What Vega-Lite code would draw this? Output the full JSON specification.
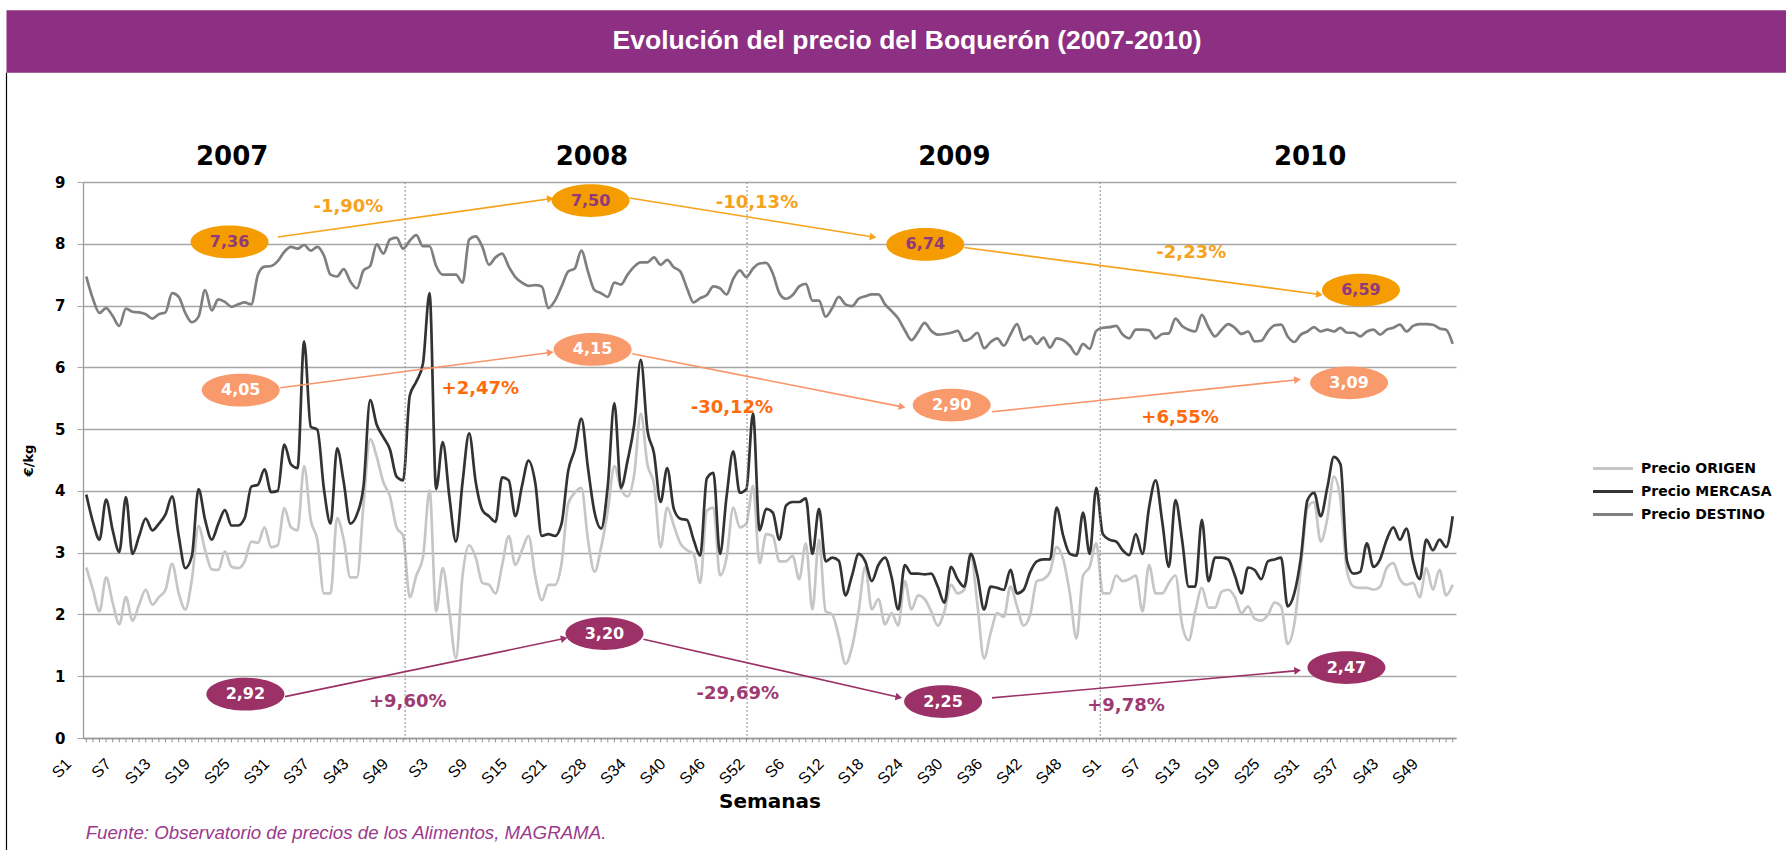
{
  "$schema": "https://vega.github.io/schema/vega-lite/v6.json",
  "width": 1373,
  "height": 556,
  "autosize": {"type": "none"},
  "padding": {"left": 83, "top": 182, "right": 330, "bottom": 112},
  "background": "#ffffff",
  "config": {"view": {"stroke": null}},
  "datasets": {
    "precios": [
      {"i":0,"ORIGEN":2.76,"MERCASA":3.94,"DESTINO":7.47},
      {"i":1,"ORIGEN":2.40,"MERCASA":3.50,"DESTINO":7.11},
      {"i":2,"ORIGEN":2.05,"MERCASA":3.21,"DESTINO":6.88},
      {"i":3,"ORIGEN":2.60,"MERCASA":3.86,"DESTINO":6.96},
      {"i":4,"ORIGEN":2.19,"MERCASA":3.36,"DESTINO":6.83},
      {"i":5,"ORIGEN":1.84,"MERCASA":3.01,"DESTINO":6.67},
      {"i":6,"ORIGEN":2.28,"MERCASA":3.90,"DESTINO":6.95},
      {"i":7,"ORIGEN":1.90,"MERCASA":2.98,"DESTINO":6.90},
      {"i":8,"ORIGEN":2.16,"MERCASA":3.27,"DESTINO":6.89},
      {"i":9,"ORIGEN":2.40,"MERCASA":3.55,"DESTINO":6.86},
      {"i":10,"ORIGEN":2.16,"MERCASA":3.36,"DESTINO":6.79},
      {"i":11,"ORIGEN":2.28,"MERCASA":3.47,"DESTINO":6.86},
      {"i":12,"ORIGEN":2.40,"MERCASA":3.62,"DESTINO":6.89},
      {"i":13,"ORIGEN":2.82,"MERCASA":3.91,"DESTINO":7.20},
      {"i":14,"ORIGEN":2.34,"MERCASA":3.27,"DESTINO":7.14},
      {"i":15,"ORIGEN":2.08,"MERCASA":2.75,"DESTINO":6.88},
      {"i":16,"ORIGEN":2.57,"MERCASA":2.95,"DESTINO":6.73},
      {"i":17,"ORIGEN":3.43,"MERCASA":4.03,"DESTINO":6.82},
      {"i":18,"ORIGEN":3.04,"MERCASA":3.53,"DESTINO":7.25},
      {"i":19,"ORIGEN":2.73,"MERCASA":3.21,"DESTINO":6.92},
      {"i":20,"ORIGEN":2.72,"MERCASA":3.47,"DESTINO":7.10},
      {"i":21,"ORIGEN":3.02,"MERCASA":3.69,"DESTINO":7.06},
      {"i":22,"ORIGEN":2.77,"MERCASA":3.44,"DESTINO":6.98},
      {"i":23,"ORIGEN":2.75,"MERCASA":3.44,"DESTINO":7.02},
      {"i":24,"ORIGEN":2.86,"MERCASA":3.56,"DESTINO":7.05},
      {"i":25,"ORIGEN":3.18,"MERCASA":4.07,"DESTINO":7.02},
      {"i":26,"ORIGEN":3.16,"MERCASA":4.10,"DESTINO":7.50},
      {"i":27,"ORIGEN":3.41,"MERCASA":4.35,"DESTINO":7.63},
      {"i":28,"ORIGEN":3.09,"MERCASA":3.98,"DESTINO":7.64},
      {"i":29,"ORIGEN":3.12,"MERCASA":4.00,"DESTINO":7.72},
      {"i":30,"ORIGEN":3.72,"MERCASA":4.75,"DESTINO":7.87},
      {"i":31,"ORIGEN":3.41,"MERCASA":4.43,"DESTINO":7.95},
      {"i":32,"ORIGEN":3.36,"MERCASA":4.37,"DESTINO":7.92},
      {"i":33,"ORIGEN":4.40,"MERCASA":6.42,"DESTINO":7.98},
      {"i":34,"ORIGEN":3.53,"MERCASA":5.04,"DESTINO":7.89},
      {"i":35,"ORIGEN":3.21,"MERCASA":4.99,"DESTINO":7.95},
      {"i":36,"ORIGEN":2.34,"MERCASA":4.03,"DESTINO":7.81},
      {"i":37,"ORIGEN":2.34,"MERCASA":3.47,"DESTINO":7.50},
      {"i":38,"ORIGEN":3.56,"MERCASA":4.69,"DESTINO":7.47},
      {"i":39,"ORIGEN":3.21,"MERCASA":4.14,"DESTINO":7.59},
      {"i":40,"ORIGEN":2.60,"MERCASA":3.47,"DESTINO":7.39},
      {"i":41,"ORIGEN":2.60,"MERCASA":3.62,"DESTINO":7.28},
      {"i":42,"ORIGEN":3.79,"MERCASA":4.08,"DESTINO":7.57},
      {"i":43,"ORIGEN":4.84,"MERCASA":5.47,"DESTINO":7.64},
      {"i":44,"ORIGEN":4.55,"MERCASA":5.07,"DESTINO":7.99},
      {"i":45,"ORIGEN":4.14,"MERCASA":4.87,"DESTINO":7.84},
      {"i":46,"ORIGEN":3.91,"MERCASA":4.67,"DESTINO":8.07},
      {"i":47,"ORIGEN":3.41,"MERCASA":4.23,"DESTINO":8.10},
      {"i":48,"ORIGEN":3.27,"MERCASA":4.17,"DESTINO":7.92},
      {"i":49,"ORIGEN":2.28,"MERCASA":5.54,"DESTINO":8.05},
      {"i":50,"ORIGEN":2.63,"MERCASA":5.77,"DESTINO":8.14},
      {"i":51,"ORIGEN":2.92,"MERCASA":6.06,"DESTINO":7.96},
      {"i":52,"ORIGEN":4.01,"MERCASA":7.20,"DESTINO":7.96},
      {"i":53,"ORIGEN":2.05,"MERCASA":4.03,"DESTINO":7.64},
      {"i":54,"ORIGEN":2.75,"MERCASA":4.79,"DESTINO":7.50},
      {"i":55,"ORIGEN":2.05,"MERCASA":3.91,"DESTINO":7.50},
      {"i":56,"ORIGEN":1.29,"MERCASA":3.18,"DESTINO":7.50},
      {"i":57,"ORIGEN":2.63,"MERCASA":4.14,"DESTINO":7.37},
      {"i":58,"ORIGEN":3.12,"MERCASA":4.93,"DESTINO":8.07},
      {"i":59,"ORIGEN":2.92,"MERCASA":4.14,"DESTINO":8.12},
      {"i":60,"ORIGEN":2.51,"MERCASA":3.69,"DESTINO":7.95},
      {"i":61,"ORIGEN":2.48,"MERCASA":3.59,"DESTINO":7.66},
      {"i":62,"ORIGEN":2.34,"MERCASA":3.50,"DESTINO":7.78},
      {"i":63,"ORIGEN":2.80,"MERCASA":4.22,"DESTINO":7.84},
      {"i":64,"ORIGEN":3.27,"MERCASA":4.17,"DESTINO":7.63},
      {"i":65,"ORIGEN":2.80,"MERCASA":3.59,"DESTINO":7.46},
      {"i":66,"ORIGEN":3.04,"MERCASA":4.08,"DESTINO":7.37},
      {"i":67,"ORIGEN":3.27,"MERCASA":4.49,"DESTINO":7.32},
      {"i":68,"ORIGEN":2.63,"MERCASA":4.14,"DESTINO":7.33},
      {"i":69,"ORIGEN":2.23,"MERCASA":3.27,"DESTINO":7.31},
      {"i":70,"ORIGEN":2.48,"MERCASA":3.30,"DESTINO":6.96},
      {"i":71,"ORIGEN":2.48,"MERCASA":3.27,"DESTINO":7.08},
      {"i":72,"ORIGEN":2.83,"MERCASA":3.47,"DESTINO":7.31},
      {"i":73,"ORIGEN":3.79,"MERCASA":4.32,"DESTINO":7.55},
      {"i":74,"ORIGEN":3.97,"MERCASA":4.67,"DESTINO":7.60},
      {"i":75,"ORIGEN":4.05,"MERCASA":5.17,"DESTINO":7.89},
      {"i":76,"ORIGEN":3.21,"MERCASA":4.37,"DESTINO":7.55},
      {"i":77,"ORIGEN":2.69,"MERCASA":3.65,"DESTINO":7.25},
      {"i":78,"ORIGEN":3.09,"MERCASA":3.39,"DESTINO":7.20},
      {"i":79,"ORIGEN":3.68,"MERCASA":4.08,"DESTINO":7.14},
      {"i":80,"ORIGEN":4.40,"MERCASA":5.42,"DESTINO":7.37},
      {"i":81,"ORIGEN":4.03,"MERCASA":4.05,"DESTINO":7.34},
      {"i":82,"ORIGEN":3.91,"MERCASA":4.49,"DESTINO":7.50},
      {"i":83,"ORIGEN":4.26,"MERCASA":5.07,"DESTINO":7.63},
      {"i":84,"ORIGEN":5.25,"MERCASA":6.12,"DESTINO":7.70},
      {"i":85,"ORIGEN":4.43,"MERCASA":4.99,"DESTINO":7.70},
      {"i":86,"ORIGEN":4.11,"MERCASA":4.61,"DESTINO":7.78},
      {"i":87,"ORIGEN":3.09,"MERCASA":3.82,"DESTINO":7.66},
      {"i":88,"ORIGEN":3.73,"MERCASA":4.37,"DESTINO":7.74},
      {"i":89,"ORIGEN":3.44,"MERCASA":3.71,"DESTINO":7.62},
      {"i":90,"ORIGEN":3.15,"MERCASA":3.55,"DESTINO":7.55},
      {"i":91,"ORIGEN":3.04,"MERCASA":3.53,"DESTINO":7.28},
      {"i":92,"ORIGEN":2.98,"MERCASA":3.21,"DESTINO":7.05},
      {"i":93,"ORIGEN":2.51,"MERCASA":2.95,"DESTINO":7.12},
      {"i":94,"ORIGEN":3.68,"MERCASA":4.20,"DESTINO":7.17},
      {"i":95,"ORIGEN":3.73,"MERCASA":4.29,"DESTINO":7.31},
      {"i":96,"ORIGEN":2.63,"MERCASA":2.98,"DESTINO":7.28},
      {"i":97,"ORIGEN":2.92,"MERCASA":3.91,"DESTINO":7.18},
      {"i":98,"ORIGEN":3.73,"MERCASA":4.64,"DESTINO":7.43},
      {"i":99,"ORIGEN":3.41,"MERCASA":3.97,"DESTINO":7.57},
      {"i":100,"ORIGEN":3.47,"MERCASA":4.03,"DESTINO":7.46},
      {"i":101,"ORIGEN":4.08,"MERCASA":5.25,"DESTINO":7.60},
      {"i":102,"ORIGEN":2.83,"MERCASA":3.36,"DESTINO":7.68},
      {"i":103,"ORIGEN":3.30,"MERCASA":3.71,"DESTINO":7.69},
      {"i":104,"ORIGEN":3.27,"MERCASA":3.65,"DESTINO":7.52},
      {"i":105,"ORIGEN":2.86,"MERCASA":3.21,"DESTINO":7.20},
      {"i":106,"ORIGEN":2.86,"MERCASA":3.76,"DESTINO":7.11},
      {"i":107,"ORIGEN":2.95,"MERCASA":3.82,"DESTINO":7.17},
      {"i":108,"ORIGEN":2.57,"MERCASA":3.82,"DESTINO":7.31},
      {"i":109,"ORIGEN":3.15,"MERCASA":3.88,"DESTINO":7.35},
      {"i":110,"ORIGEN":2.08,"MERCASA":2.98,"DESTINO":7.08},
      {"i":111,"ORIGEN":3.21,"MERCASA":3.71,"DESTINO":7.08},
      {"i":112,"ORIGEN":2.05,"MERCASA":2.86,"DESTINO":6.82},
      {"i":113,"ORIGEN":2.00,"MERCASA":2.92,"DESTINO":6.96},
      {"i":114,"ORIGEN":1.64,"MERCASA":2.87,"DESTINO":7.14},
      {"i":115,"ORIGEN":1.20,"MERCASA":2.31,"DESTINO":7.02},
      {"i":116,"ORIGEN":1.47,"MERCASA":2.63,"DESTINO":6.99},
      {"i":117,"ORIGEN":2.05,"MERCASA":2.98,"DESTINO":7.11},
      {"i":118,"ORIGEN":2.77,"MERCASA":2.86,"DESTINO":7.15},
      {"i":119,"ORIGEN":2.08,"MERCASA":2.54,"DESTINO":7.18},
      {"i":120,"ORIGEN":2.25,"MERCASA":2.80,"DESTINO":7.18},
      {"i":121,"ORIGEN":1.84,"MERCASA":2.92,"DESTINO":7.02},
      {"i":122,"ORIGEN":2.02,"MERCASA":2.60,"DESTINO":6.91},
      {"i":123,"ORIGEN":1.82,"MERCASA":2.08,"DESTINO":6.79},
      {"i":124,"ORIGEN":2.54,"MERCASA":2.80,"DESTINO":6.60},
      {"i":125,"ORIGEN":2.08,"MERCASA":2.66,"DESTINO":6.44},
      {"i":126,"ORIGEN":2.31,"MERCASA":2.66,"DESTINO":6.57},
      {"i":127,"ORIGEN":2.25,"MERCASA":2.65,"DESTINO":6.72},
      {"i":128,"ORIGEN":2.05,"MERCASA":2.66,"DESTINO":6.59},
      {"i":129,"ORIGEN":1.82,"MERCASA":2.45,"DESTINO":6.53},
      {"i":130,"ORIGEN":2.05,"MERCASA":2.19,"DESTINO":6.54},
      {"i":131,"ORIGEN":2.48,"MERCASA":2.77,"DESTINO":6.56},
      {"i":132,"ORIGEN":2.34,"MERCASA":2.57,"DESTINO":6.59},
      {"i":133,"ORIGEN":2.40,"MERCASA":2.45,"DESTINO":6.43},
      {"i":134,"ORIGEN":2.95,"MERCASA":2.98,"DESTINO":6.47},
      {"i":135,"ORIGEN":2.16,"MERCASA":2.63,"DESTINO":6.56},
      {"i":136,"ORIGEN":1.29,"MERCASA":2.08,"DESTINO":6.31},
      {"i":137,"ORIGEN":1.70,"MERCASA":2.45,"DESTINO":6.41},
      {"i":138,"ORIGEN":2.02,"MERCASA":2.43,"DESTINO":6.47},
      {"i":139,"ORIGEN":1.96,"MERCASA":2.40,"DESTINO":6.35},
      {"i":140,"ORIGEN":2.45,"MERCASA":2.72,"DESTINO":6.53},
      {"i":141,"ORIGEN":2.13,"MERCASA":2.34,"DESTINO":6.70},
      {"i":142,"ORIGEN":1.82,"MERCASA":2.40,"DESTINO":6.44},
      {"i":143,"ORIGEN":2.00,"MERCASA":2.69,"DESTINO":6.50},
      {"i":144,"ORIGEN":2.54,"MERCASA":2.86,"DESTINO":6.38},
      {"i":145,"ORIGEN":2.57,"MERCASA":2.89,"DESTINO":6.48},
      {"i":146,"ORIGEN":2.69,"MERCASA":2.89,"DESTINO":6.32},
      {"i":147,"ORIGEN":3.09,"MERCASA":3.73,"DESTINO":6.47},
      {"i":148,"ORIGEN":2.89,"MERCASA":3.27,"DESTINO":6.44},
      {"i":149,"ORIGEN":2.34,"MERCASA":2.98,"DESTINO":6.35},
      {"i":150,"ORIGEN":1.61,"MERCASA":2.95,"DESTINO":6.21},
      {"i":151,"ORIGEN":2.63,"MERCASA":3.65,"DESTINO":6.38},
      {"i":152,"ORIGEN":2.77,"MERCASA":2.98,"DESTINO":6.30},
      {"i":153,"ORIGEN":3.15,"MERCASA":4.05,"DESTINO":6.59},
      {"i":154,"ORIGEN":2.34,"MERCASA":3.30,"DESTINO":6.64},
      {"i":155,"ORIGEN":2.34,"MERCASA":3.21,"DESTINO":6.65},
      {"i":156,"ORIGEN":2.63,"MERCASA":3.18,"DESTINO":6.67},
      {"i":157,"ORIGEN":2.54,"MERCASA":3.04,"DESTINO":6.53},
      {"i":158,"ORIGEN":2.57,"MERCASA":2.96,"DESTINO":6.47},
      {"i":159,"ORIGEN":2.63,"MERCASA":3.30,"DESTINO":6.61},
      {"i":160,"ORIGEN":2.05,"MERCASA":2.98,"DESTINO":6.61},
      {"i":161,"ORIGEN":2.80,"MERCASA":3.73,"DESTINO":6.60},
      {"i":162,"ORIGEN":2.34,"MERCASA":4.17,"DESTINO":6.47},
      {"i":163,"ORIGEN":2.34,"MERCASA":3.50,"DESTINO":6.54},
      {"i":164,"ORIGEN":2.51,"MERCASA":2.77,"DESTINO":6.55},
      {"i":165,"ORIGEN":2.63,"MERCASA":3.85,"DESTINO":6.79},
      {"i":166,"ORIGEN":1.84,"MERCASA":3.21,"DESTINO":6.67},
      {"i":167,"ORIGEN":1.58,"MERCASA":2.45,"DESTINO":6.61},
      {"i":168,"ORIGEN":2.05,"MERCASA":2.45,"DESTINO":6.58},
      {"i":169,"ORIGEN":2.43,"MERCASA":3.53,"DESTINO":6.85},
      {"i":170,"ORIGEN":2.11,"MERCASA":2.54,"DESTINO":6.65},
      {"i":171,"ORIGEN":2.11,"MERCASA":2.92,"DESTINO":6.50},
      {"i":172,"ORIGEN":2.37,"MERCASA":2.92,"DESTINO":6.61},
      {"i":173,"ORIGEN":2.40,"MERCASA":2.89,"DESTINO":6.70},
      {"i":174,"ORIGEN":2.28,"MERCASA":2.63,"DESTINO":6.64},
      {"i":175,"ORIGEN":2.02,"MERCASA":2.34,"DESTINO":6.54},
      {"i":176,"ORIGEN":2.13,"MERCASA":2.76,"DESTINO":6.58},
      {"i":177,"ORIGEN":1.93,"MERCASA":2.72,"DESTINO":6.42},
      {"i":178,"ORIGEN":1.90,"MERCASA":2.57,"DESTINO":6.43},
      {"i":179,"ORIGEN":1.99,"MERCASA":2.86,"DESTINO":6.58},
      {"i":180,"ORIGEN":2.19,"MERCASA":2.89,"DESTINO":6.68},
      {"i":181,"ORIGEN":2.13,"MERCASA":2.92,"DESTINO":6.69},
      {"i":182,"ORIGEN":1.52,"MERCASA":2.13,"DESTINO":6.50},
      {"i":183,"ORIGEN":1.84,"MERCASA":2.34,"DESTINO":6.41},
      {"i":184,"ORIGEN":2.75,"MERCASA":2.92,"DESTINO":6.53},
      {"i":185,"ORIGEN":3.73,"MERCASA":3.85,"DESTINO":6.58},
      {"i":186,"ORIGEN":3.82,"MERCASA":3.97,"DESTINO":6.65},
      {"i":187,"ORIGEN":3.18,"MERCASA":3.59,"DESTINO":6.58},
      {"i":188,"ORIGEN":3.55,"MERCASA":4.05,"DESTINO":6.61},
      {"i":189,"ORIGEN":4.23,"MERCASA":4.55,"DESTINO":6.58},
      {"i":190,"ORIGEN":3.85,"MERCASA":4.43,"DESTINO":6.64},
      {"i":191,"ORIGEN":2.69,"MERCASA":2.86,"DESTINO":6.56},
      {"i":192,"ORIGEN":2.45,"MERCASA":2.66,"DESTINO":6.56},
      {"i":193,"ORIGEN":2.43,"MERCASA":2.69,"DESTINO":6.50},
      {"i":194,"ORIGEN":2.43,"MERCASA":3.15,"DESTINO":6.58},
      {"i":195,"ORIGEN":2.40,"MERCASA":2.77,"DESTINO":6.61},
      {"i":196,"ORIGEN":2.45,"MERCASA":2.89,"DESTINO":6.53},
      {"i":197,"ORIGEN":2.75,"MERCASA":3.21,"DESTINO":6.61},
      {"i":198,"ORIGEN":2.83,"MERCASA":3.41,"DESTINO":6.64},
      {"i":199,"ORIGEN":2.57,"MERCASA":3.21,"DESTINO":6.69},
      {"i":200,"ORIGEN":2.48,"MERCASA":3.39,"DESTINO":6.58},
      {"i":201,"ORIGEN":2.51,"MERCASA":2.86,"DESTINO":6.67},
      {"i":202,"ORIGEN":2.28,"MERCASA":2.57,"DESTINO":6.70},
      {"i":203,"ORIGEN":2.75,"MERCASA":3.21,"DESTINO":6.70},
      {"i":204,"ORIGEN":2.40,"MERCASA":3.04,"DESTINO":6.69},
      {"i":205,"ORIGEN":2.72,"MERCASA":3.21,"DESTINO":6.63},
      {"i":206,"ORIGEN":2.31,"MERCASA":3.09,"DESTINO":6.61},
      {"i":207,"ORIGEN":2.48,"MERCASA":3.59,"DESTINO":6.38}
    ],
    "elipses": [
      {"i":21.7,"v":8.03,"t":"7,36","g":"a"},
      {"i":76.4,"v":8.70,"t":"7,50","g":"a"},
      {"i":127.1,"v":7.99,"t":"6,74","g":"a"},
      {"i":193.1,"v":7.25,"t":"6,59","g":"a"},
      {"i":23.4,"v":5.63,"t":"4,05","g":"b"},
      {"i":76.7,"v":6.29,"t":"4,15","g":"b"},
      {"i":131.1,"v":5.39,"t":"2,90","g":"b"},
      {"i":191.3,"v":5.75,"t":"3,09","g":"b"},
      {"i":24.1,"v":0.71,"t":"2,92","g":"c"},
      {"i":78.5,"v":1.69,"t":"3,20","g":"c"},
      {"i":129.8,"v":0.59,"t":"2,25","g":"c"},
      {"i":190.9,"v":1.14,"t":"2,47","g":"c"}
    ],
    "variaciones": [
      {"i":39.7,"v":8.59,"t":"-1,90%","g":"a"},
      {"i":101.6,"v":8.66,"t":"-10,13%","g":"a"},
      {"i":167.4,"v":7.85,"t":"-2,23%","g":"a"},
      {"i":59.7,"v":5.65,"t":"+2,47%","g":"b"},
      {"i":97.8,"v":5.34,"t":"-30,12%","g":"b"},
      {"i":165.7,"v":5.18,"t":"+6,55%","g":"b"},
      {"i":48.7,"v":0.59,"t":"+9,60%","g":"c"},
      {"i":98.7,"v":0.72,"t":"-29,69%","g":"c"},
      {"i":157.5,"v":0.51,"t":"+9,78%","g":"c"}
    ],
    "flechas": [
      {"i":29.0,"v":8.11,"i2":70.3,"v2":8.73,"g":"a"},
      {"i":82.3,"v":8.74,"i2":119.2,"v2":8.11,"g":"a"},
      {"i":133.0,"v":7.94,"i2":186.8,"v2":7.18,"g":"a"},
      {"i":29.4,"v":5.67,"i2":70.3,"v2":6.24,"g":"b"},
      {"i":82.7,"v":6.22,"i2":123.6,"v2":5.36,"g":"b"},
      {"i":137.2,"v":5.28,"i2":183.5,"v2":5.80,"g":"b"},
      {"i":30.1,"v":0.67,"i2":72.4,"v2":1.61,"g":"c"},
      {"i":84.4,"v":1.60,"i2":123.1,"v2":0.66,"g":"c"},
      {"i":137.2,"v":0.65,"i2":183.5,"v2":1.09,"g":"c"}
    ],
    "anios": [
      {"i":22.1,"t":"2007"},
      {"i":76.6,"t":"2008"},
      {"i":131.5,"t":"2009"},
      {"i":185.4,"t":"2010"}
    ],
    "cortes": [
      {"i":48.3},
      {"i":100.1},
      {"i":153.6}
    ]
  },
  "layer": [
    {
      "data": {"name": "precios"},
      "transform": [{"fold": ["ORIGEN", "MERCASA", "DESTINO"], "as": ["serie", "v"]}],
      "mark": {"type": "line", "strokeWidth": 2.7, "interpolate": "monotone"},
      "encoding": {
        "x": {
          "field": "i", "type": "quantitative", "title": "Semanas",
          "scale": {"domain": [-0.5, 207.5], "nice": false, "zero": false},
          "axis": {
            "title": "Semanas",
            "values": [0,6,12,18,24,30,36,42,48,54,60,66,72,78,84,90,96,102,108,114,120,126,132,138,144,150,156,162,168,174,180,186,192,198,204],
            "labelExpr": "datum.value<52 ? 'S'+(datum.value+1) : datum.value<78 ? 'S'+(datum.value-51) : datum.value<103 ? 'S'+(datum.value-50) : datum.value<156 ? 'S'+(datum.value-102) : 'S'+(datum.value-155)",
            "labelAngle": -45,
            "labelAlign": "right",
            "labelBaseline": "middle",
            "labelOffset": -18,
            "labelPadding": 23,
            "labelOverlap": false,
            "labelBound": false,
            "labelFlush": false,
            "labelFont": "Liberation Sans",
            "labelFontSize": 16,
            "labelColor": "#000000",
            "ticks": false,
            "domainColor": "#9a9a9a",
            "domainWidth": 1.3,
            "grid": false,
            "titleFont": "DejaVu Sans",
            "titleFontWeight": "bold",
            "titleFontSize": 20,
            "titlePadding": 5,
            "titleColor": "#000000"
          }
        },
        "y": {
          "field": "v", "type": "quantitative", "title": "€/kg",
          "scale": {"domain": [0, 9], "nice": false, "zero": false},
          "axis": {
            "title": "€/kg",
            "values": [0,1,2,3,4,5,6,7,8,9],
            "format": "d",
            "grid": true,
            "gridColor": "#a6a6a6",
            "gridWidth": 1.3,
            "domainColor": "#9a9a9a",
            "domainWidth": 1.3,
            "ticks": true,
            "tickColor": "#a6a6a6",
            "tickSize": 6,
            "labelFont": "DejaVu Sans",
            "labelFontWeight": "bold",
            "labelFontSize": 15,
            "labelPadding": 12,
            "labelColor": "#000000",
            "titleFont": "DejaVu Sans",
            "titleFontWeight": "bold",
            "titleFontSize": 13,
            "titlePadding": 19,
            "titleColor": "#000000"
          }
        },
        "color": {
          "field": "serie",
          "type": "nominal",
          "scale": {"domain": ["ORIGEN", "MERCASA", "DESTINO"], "range": ["#c6c6c6", "#333333", "#7f7f7f"]},
          "legend": {
            "orient": "none",
            "legendX": 1518.5,
            "legendY": 275,
            "title": null,
            "padding": 0,
            "symbolType": "M-2,0H2",
            "symbolSize": 400,
            "symbolStrokeWidth": 3,
            "labelFont": "DejaVu Sans",
            "labelFontWeight": "bold",
            "labelFontSize": 14,
            "labelColor": "#000000",
            "labelOffset": 16.5,
            "rowPadding": 4,
            "labelExpr": "'Precio ' + datum.label"
          }
        }
      }
    },
    {
      "data": {"values": [{}]},
      "mark": {"type": "rect", "color": "#8d2f82"},
      "encoding": {
        "x": {"datum": -12.09, "type": "quantitative", "scale": {"domain": [-0.5, 207.5], "nice": false, "zero": false}},
        "x2": {"datum": 262},
        "y": {"datum": 11.78, "type": "quantitative", "scale": {"domain": [0, 9], "nice": false, "zero": false}},
        "y2": {"datum": 10.77}
      }
    },
    {
      "data": {"values": [{}]},
      "mark": {"type": "rule", "color": "#000000", "strokeWidth": 1.2},
      "encoding": {
        "x": {"datum": -12.09, "type": "quantitative", "scale": {"domain": [-0.5, 207.5], "nice": false, "zero": false}},
        "y": {"datum": 10.77, "type": "quantitative", "scale": {"domain": [0, 9], "nice": false, "zero": false}},
        "y2": {"datum": -1.95}
      }
    },
    {
      "data": {"values": [{"t": "Evolución del precio del Boquerón (2007-2010)"}]},
      "mark": {"type": "text", "color": "#ffffff", "font": "Liberation Sans", "fontWeight": "bold", "fontSize": 26.5, "align": "center", "baseline": "middle"},
      "encoding": {
        "x": {"datum": 124.35, "type": "quantitative", "scale": {"domain": [-0.5, 207.5], "nice": false, "zero": false}},
        "y": {"datum": 11.28, "type": "quantitative", "scale": {"domain": [0, 9], "nice": false, "zero": false}},
        "text": {"field": "t"}
      }
    },
    {
      "data": {"values": [{"t": "Fuente: Observatorio de precios de los Alimentos, MAGRAMA."}]},
      "mark": {"type": "text", "color": "#9b3a8c", "font": "Liberation Sans", "fontStyle": "italic", "fontSize": 18.7, "align": "left", "baseline": "middle"},
      "encoding": {
        "x": {"datum": -0.1, "type": "quantitative", "scale": {"domain": [-0.5, 207.5], "nice": false, "zero": false}},
        "y": {"datum": -1.54, "type": "quantitative", "scale": {"domain": [0, 9], "nice": false, "zero": false}},
        "text": {"field": "t"}
      }
    },
    {
      "data": {"name": "precios"},
      "mark": {"type": "rule", "color": "#8f8f8f", "strokeWidth": 1},
      "encoding": {
        "x": {"field": "i", "type": "quantitative", "title": "Semanas", "scale": {"domain": [-0.5, 207.5], "nice": false, "zero": false}},
        "y": {"datum": 0, "type": "quantitative", "scale": {"domain": [0, 9], "nice": false, "zero": false}},
        "y2": {"datum": -0.07}
      }
    },
    {
      "data": {"name": "cortes"},
      "mark": {"type": "rule", "color": "#8c8c8c", "strokeWidth": 1, "strokeDash": [2, 2]},
      "encoding": {
        "x": {"field": "i", "type": "quantitative", "title": "Semanas", "scale": {"domain": [-0.5, 207.5], "nice": false, "zero": false}},
        "y": {"datum": 9, "type": "quantitative", "scale": {"domain": [0, 9], "nice": false, "zero": false}},
        "y2": {"datum": -0.06}
      }
    },
    {
      "data": {"name": "flechas"},
      "mark": {"type": "rule", "strokeWidth": 1.6},
      "encoding": {
        "x": {"field": "i", "type": "quantitative", "title": "Semanas", "scale": {"domain": [-0.5, 207.5], "nice": false, "zero": false}},
        "y": {"field": "v", "type": "quantitative", "title": "€/kg", "scale": {"domain": [0, 9], "nice": false, "zero": false}},
        "x2": {"field": "i2"},
        "y2": {"field": "v2"},
        "color": {"field": "g", "type": "nominal", "scale": {"domain": ["a", "b", "c"], "range": ["#f7a21b", "#f9956a", "#9b3166"]}, "legend": null}
      }
    },
    {
      "data": {"name": "flechas"},
      "transform": [{"calculate": "atan2(-(datum.v2-datum.v)*61.8, (datum.i2-datum.i)*6.6)*180/PI", "as": "ang"}],
      "mark": {"type": "point", "shape": "triangle-right", "filled": true, "opacity": 1, "size": 60},
      "encoding": {
        "x": {"field": "i2", "type": "quantitative", "title": "Semanas", "scale": {"domain": [-0.5, 207.5], "nice": false, "zero": false}},
        "y": {"field": "v2", "type": "quantitative", "title": "€/kg", "scale": {"domain": [0, 9], "nice": false, "zero": false}},
        "angle": {"field": "ang", "type": "quantitative", "scale": null},
        "color": {"field": "g", "type": "nominal", "scale": {"domain": ["a", "b", "c"], "range": ["#f7a21b", "#f9956a", "#9b3166"]}, "legend": null}
      }
    },
    {
      "data": {"name": "elipses"},
      "mark": {"type": "point", "shape": "M-1,0A1,0.42,0,1,0,1,0A1,0.42,0,1,0,-1,0Z", "filled": true, "opacity": 1, "size": 6084, "strokeWidth": 0},
      "encoding": {
        "x": {"field": "i", "type": "quantitative", "title": "Semanas", "scale": {"domain": [-0.5, 207.5], "nice": false, "zero": false}},
        "y": {"field": "v", "type": "quantitative", "title": "€/kg", "scale": {"domain": [0, 9], "nice": false, "zero": false}},
        "color": {"field": "g", "type": "nominal", "scale": {"domain": ["a", "b", "c"], "range": ["#f59c00", "#f99a6c", "#9b3166"]}, "legend": null}
      }
    },
    {
      "data": {"name": "elipses"},
      "mark": {"type": "text", "font": "DejaVu Sans", "fontWeight": "bold", "fontSize": 16, "align": "center", "baseline": "middle"},
      "encoding": {
        "x": {"field": "i", "type": "quantitative", "title": "Semanas", "scale": {"domain": [-0.5, 207.5], "nice": false, "zero": false}},
        "y": {"field": "v", "type": "quantitative", "title": "€/kg", "scale": {"domain": [0, 9], "nice": false, "zero": false}},
        "text": {"field": "t"},
        "color": {"field": "g", "type": "nominal", "scale": {"domain": ["a", "b", "c"], "range": ["#8e3a7c", "#ffffff", "#ffffff"]}, "legend": null}
      }
    },
    {
      "data": {"name": "variaciones"},
      "mark": {"type": "text", "font": "DejaVu Sans", "fontWeight": "bold", "fontSize": 18, "align": "center", "baseline": "middle"},
      "encoding": {
        "x": {"field": "i", "type": "quantitative", "title": "Semanas", "scale": {"domain": [-0.5, 207.5], "nice": false, "zero": false}},
        "y": {"field": "v", "type": "quantitative", "title": "€/kg", "scale": {"domain": [0, 9], "nice": false, "zero": false}},
        "text": {"field": "t"},
        "color": {"field": "g", "type": "nominal", "scale": {"domain": ["a", "b", "c"], "range": ["#f7a21b", "#ff6a0d", "#9e3a72"]}, "legend": null}
      }
    },
    {
      "data": {"name": "anios"},
      "mark": {"type": "text", "font": "DejaVu Sans", "fontWeight": "bold", "fontSize": 26, "align": "center", "baseline": "middle", "color": "#000000"},
      "encoding": {
        "x": {"field": "i", "type": "quantitative", "title": "Semanas", "scale": {"domain": [-0.5, 207.5], "nice": false, "zero": false}},
        "y": {"datum": 9.40, "type": "quantitative", "scale": {"domain": [0, 9], "nice": false, "zero": false}},
        "text": {"field": "t"}
      }
    }
  ],
  "resolve": {"scale": {"color": "independent"}, "legend": {"color": "independent"}}
}
